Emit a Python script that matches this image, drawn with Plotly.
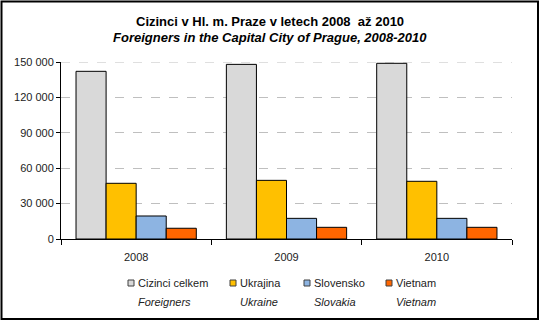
import plotly.graph_objects as go

# Foreign residents of Prague by citizenship, 2008-2010
years = ["2008", "2009", "2010"]
series_cz = ["Cizinci celkem", "Ukrajina", "Slovensko", "Vietnam"]
series_en = ["Foreigners", "Ukraine", "Slovakia", "Vietnam"]
foreigners = [142100, 148000, 148900]
ukraine = [47200, 49700, 48900]
slovakia = [19500, 17500, 17500]
vietnam = [9100, 9900, 9900]
values = [foreigners, ukraine, slovakia, vietnam]
colors = ["#D9D9D9", "#FFC000", "#8DB4E2", "#FF6600"]
y_ticks = [0, 30000, 60000, 90000, 120000, 150000]
title_cz = "Cizinci v Hl. m. Praze v letech 2008  až 2010"
title_en = "Foreigners in the Capital City of Prague, 2008-2010"

W, H = 540, 321
L, R, T, B = 61, 28, 62, 82
FONT = "Liberation Sans, Arial, sans-serif"
GRID = "#BFBFBF"

fig = go.Figure()
for name, vals, col in zip(series_cz, values, colors):
    fig.add_trace(go.Bar(
        x=years, y=vals, name=name,
        marker=dict(color=col, line=dict(color="#000000", width=1)),
        showlegend=False, hoverinfo="x+y+name",
    ))

# pixel -> paper helpers for the hand-built title and legend
pw, ph = W - L - R, H - T - B
def px_x(x):
    return (x - L) / pw
def px_y(y):
    return (H - B - y) / ph

annotations = [
    dict(text="<b>" + title_cz + "</b>", xref="paper", yref="paper",
         x=px_x(W / 2), y=px_y(21), xanchor="center", yanchor="middle",
         showarrow=False, font=dict(family=FONT, size=13, color="#000000")),
    dict(text="<b><i>" + title_en + "</i></b>", xref="paper", yref="paper",
         x=px_x(W / 2), y=px_y(38), xanchor="center", yanchor="middle",
         showarrow=False, font=dict(family=FONT, size=13, color="#000000")),
]
shapes = [
    # top gridline sits on the upper edge of the plot area
    dict(type="line", xref="paper", yref="y", x0=0, x1=1,
         y0=y_ticks[-1], y1=y_ticks[-1],
         line=dict(color=GRID, width=1, dash="dash"), layer="below"),
]
legend_text_x = [136, 238, 312, 394]
row_cz, row_en = 283, 302
for cz, en, col, tx in zip(series_cz, series_en, colors, legend_text_x):
    shapes.append(dict(
        type="rect", xref="paper", yref="paper",
        x0=px_x(tx - 8), x1=px_x(tx - 2),
        y0=px_y(row_cz + 3), y1=px_y(row_cz - 3),
        fillcolor=col, line=dict(color="#404040", width=1),
    ))
    annotations.append(dict(
        text=cz, xref="paper", yref="paper", x=px_x(tx), y=px_y(row_cz),
        xanchor="left", yanchor="middle", showarrow=False,
        font=dict(family=FONT, size=11, color="#222222"),
    ))
    annotations.append(dict(
        text="<i>" + en + "</i>", xref="paper", yref="paper", x=px_x(tx), y=px_y(row_en),
        xanchor="left", yanchor="middle", showarrow=False,
        font=dict(family=FONT, size=11, color="#222222"),
    ))

# outer frame around the whole figure
shapes.append(dict(
    type="rect", xref="paper", yref="paper",
    x0=px_x(1.5), x1=px_x(538), y0=px_y(319), y1=px_y(1.5),
    line=dict(color="#000000", width=2), fillcolor="rgba(0,0,0,0)", layer="above",
))

fig.update_layout(
    width=W, height=H,
    margin=dict(l=L, r=R, t=T, b=B, pad=0),
    paper_bgcolor="white", plot_bgcolor="white",
    barmode="group", bargap=0.2, bargroupgap=0,
    separators=", ",
    font=dict(family=FONT, size=11, color="#222222"),
    xaxis=dict(
        type="category", showline=True, linecolor="#000000", linewidth=1,
        ticks="outside", tickson="boundaries", ticklen=5, tickcolor="#000000",
        showgrid=False, tickfont=dict(size=11, color="#222222"),
        ticklabelstandoff=8,
    ),
    yaxis=dict(
        range=[0, 150000], tickvals=y_ticks, tickformat=",d",
        showline=True, linecolor="#000000", linewidth=1,
        ticks="outside", ticklen=4, tickcolor="#000000",
        showgrid=True, gridcolor=GRID, griddash="dash", gridwidth=1,
        zeroline=False, tickfont=dict(size=11, color="#222222"),
    ),
    annotations=annotations, shapes=shapes,
)

fig.write_html("out.html")
